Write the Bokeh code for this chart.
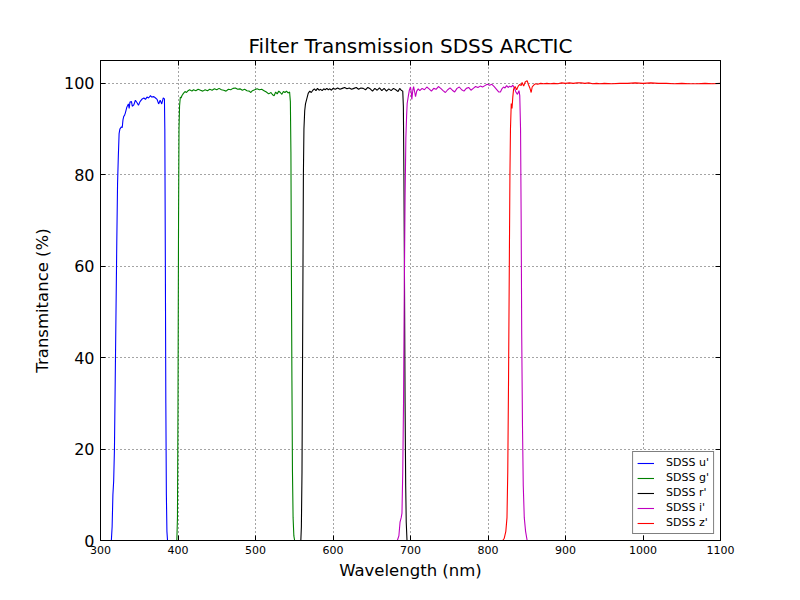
from bokeh.plotting import figure
from bokeh.models import LinearAxis, FixedTicker, Range1d, Legend, LegendItem
from bokeh.embed import file_html
from bokeh.resources import INLINE

# ---- data ----
u_wl = [300, 314, 315, 316, 317, 318, 319, 320, 321, 322, 323, 324, 325, 327, 328, 329, 330, 331, 332,
        334, 336, 337, 338, 340, 341, 343, 345, 347, 349, 351, 353.8, 356, 358, 360, 362, 364.5, 366,
        368.8, 371, 373, 375, 377, 379, 381, 382.5, 383, 383.7, 384.3, 385, 385.7, 386.5, 1100]
u_tr = [0, 0, 3, 10, 13, 20, 35, 50, 65, 78, 84, 89, 90, 90.5, 90.3, 92, 92.8, 93, 93.5,
        94.8, 95.5, 94.5, 95.9, 96, 95, 95.3, 96.3, 95.8, 95.2, 96, 96.6, 96.8, 96.5, 97, 96.8, 97.3, 97,
        97.1, 96.8, 96.5, 95.5, 96.3, 95.5, 96.8, 96.6, 90, 60, 30, 10, 2, 0, 0]

g_wl = [300, 398.5, 399.3, 400, 400.7, 401.3, 402, 403, 404, 405, 407, 409, 411, 413, 415, 418, 420, 423,
        426, 429, 432, 435, 438, 441, 444, 447, 450, 453, 456, 459, 462, 465, 468, 471, 474, 477, 480,
        483, 486, 489, 492, 494, 496, 499, 502, 505, 508, 511, 514, 517, 520, 522, 524, 526, 528, 530,
        532, 534, 536, 538, 540, 542, 544, 545, 545.7, 546.3, 547, 547.7, 548.5, 549.5, 550.5, 1100]
g_tr = [0, 0, 5, 30, 70, 90, 95, 97, 96.8, 97.3, 97.8, 98.2, 98.0, 98.4, 98.6, 98.3, 98.6, 98.4,
        98.7, 98.5, 98.3, 98.6, 98.4, 98.7, 98.5, 98.8, 98.6, 98.9, 98.6, 98.5, 98.3, 98.7, 98.6, 98.9, 99.0, 98.7, 98.8,
        98.5, 98.7, 98.4, 98.3, 98.0, 98.4, 98.6, 98.8, 98.6, 98.7, 98.4, 98.1, 97.7, 98.0, 97.5, 97.3, 98.1, 97.7, 98.3,
        98.0, 97.6, 98.2, 98.0, 98.3, 97.9, 98.1, 96, 85, 60, 35, 15, 5, 1, 0, 0]

r_wl = [300, 558.5, 559.2, 560, 561, 561.8, 562.5, 563.5, 564.5, 566, 568, 570, 572, 574, 576, 578, 580,
        582, 584, 586, 588, 590, 592, 594, 596, 598, 600, 603, 606, 609, 612, 615, 618, 621, 624, 627,
        630, 633, 636, 639, 642, 645, 648, 651, 654, 657, 660, 663, 666, 669, 672, 675, 678, 681, 684,
        686, 688, 690, 690.8, 691.5, 692.3, 693, 693.8, 694.5, 695.5, 1100]
r_tr = [0, 0, 3, 15, 50, 80, 90, 94, 95.5, 96.5, 97.8, 98.3, 98.0, 98.5, 98.8, 98.4, 98.9,
        98.5, 98.7, 98.4, 98.8, 98.6, 98.9, 98.6, 98.8, 98.5, 98.9, 98.7, 99.0, 98.7, 98.9, 99.1, 98.8, 99.0, 98.7, 98.9,
        99.1, 98.7, 99.0, 98.9, 98.6, 99.1, 98.8, 98.3, 98.9, 98.5, 99.0, 98.4, 98.9, 98.3, 98.8, 98.4, 98.9, 98.6, 98.2,
        98.9, 98.5, 98.3, 95, 80, 55, 30, 12, 4, 0, 0]

i_wl = [300, 683, 685, 686.5, 688, 689, 690, 691, 692, 693, 694, 695, 695.7, 697, 698.5, 700, 701, 701.7,
        703, 704, 705.5, 706.5, 708, 710, 712, 715, 718, 721, 724, 727, 730, 733, 736, 739, 742, 745,
        748, 751, 754, 757, 760, 763, 766, 769, 772, 775, 778, 781, 784, 787, 790, 793, 796, 799, 802,
        805, 808, 811, 814, 816, 818, 820, 822, 824, 826, 828, 830, 832, 834, 836, 838, 840, 841, 842,
        842.8, 843.5, 844.5, 845.5, 846.8, 848.5, 850.5, 1100]
i_tr = [0, 0, 1, 4, 5, 6, 15, 30, 55, 75, 88, 93, 95.6, 97, 98.5, 99.2, 98, 96.5,
        98.5, 99.3, 98, 97.1, 98.3, 98.8, 98.4, 98.9, 98.6, 99.2, 98.8, 98.3, 98.9, 98.7, 99.3, 98.9, 98.4, 98.0,
        98.6, 99.0, 98.5, 98.1, 98.9, 99.2, 98.6, 98.3, 98.9, 99.1, 98.5, 98.9, 99.3, 99.1, 99.4, 99.2, 99.5, 99.8, 99.6,
        99.8, 99.3, 98.7, 98.1, 98.1, 98.8, 99.2, 99.0, 99.5, 99.1, 99.4, 99.2, 99.6, 99.0, 98.1, 97.6, 98.4, 97.3, 90,
        70, 45, 25, 12, 5, 2, 0, 0]

z_wl = [300, 819, 821, 823, 824.5, 825.5, 826.5, 827.5, 828.3, 829, 830, 831, 832, 833, 835, 837, 839,
        841, 842.8, 844, 846, 848, 850.5, 852, 854, 855.7, 857, 859, 861, 864, 868, 872, 876, 880, 885,
        890, 895, 900, 905, 910, 915, 920, 925, 930, 935, 940, 945, 950, 960, 970, 980, 990, 1000, 1010,
        1020, 1030, 1040, 1050, 1060, 1070, 1080, 1090, 1100]
z_tr = [0, 0, 0.5, 2, 5, 15, 35, 60, 80, 90, 95.6, 94.5, 97, 98.7, 99.3, 98.6, 99.4,
        99.8, 99.5, 100.2, 99.4, 100.3, 100.6, 99.8, 99.0, 98.0, 99.2, 99.6, 99.9, 99.8, 100.0, 99.9, 100.0, 99.9, 100.0,
        99.9, 100.1, 100.0, 100.1, 100.0, 100.1, 100.1, 100.0, 100.1, 99.9, 100.0, 99.9, 100.0, 99.9, 100.0, 100.0, 100.1, 100.0, 100.1,
        100.0, 100.0, 99.9, 100.0, 99.9, 99.9, 100.0, 99.9, 100.0]

series = [
    ("SDSS u'", u_wl, u_tr, "#0000ff"),
    ("SDSS g'", g_wl, g_tr, "#008000"),
    ("SDSS r'", r_wl, r_tr, "#000000"),
    ("SDSS i'", i_wl, i_tr, "#bf00bf"),
    ("SDSS z'", z_wl, z_tr, "#ff0000"),
]

x_ticks = [300, 400, 500, 600, 700, 800, 900, 1000, 1100]
y_ticks = [0, 20, 40, 60, 80, 100]

FONT = "DejaVu Sans"

p = figure(width=800, height=600, output_backend="svg", toolbar_location=None,
           x_range=Range1d(300, 1100), y_range=Range1d(0, 105),
           min_border_left=100, min_border_right=80, min_border_top=60, min_border_bottom=60,
           title="Filter Transmission SDSS ARCTIC")
p.title.text_font = FONT
p.title.text_font_size = "20px"
p.title.text_font_style = "normal"
p.title.text_color = "black"
p.title.align = "center"
p.title.standoff = 6

p.outline_line_color = "black"
p.outline_line_width = 1
p.background_fill_color = "white"
p.border_fill_color = "white"

items = []
for name, wl, tr, col in series:
    r = p.line(wl, tr, line_color=col, line_width=1.1)
    items.append(LegendItem(label=name, renderers=[r]))

# axes
for ax in (p.xaxis[0], p.yaxis[0]):
    ax.major_tick_in = 5
    ax.major_tick_out = 0
    ax.minor_tick_line_color = None
    ax.axis_line_color = "black"
    ax.major_tick_line_color = "black"
    ax.major_label_text_font = FONT
    ax.axis_label_text_font = FONT
    ax.axis_label_text_font_style = "normal"
    ax.axis_label_text_font_size = "16.5px"
    ax.axis_label_text_color = "black"
    ax.major_label_text_color = "black"

p.xaxis[0].ticker = FixedTicker(ticks=x_ticks)
p.yaxis[0].ticker = FixedTicker(ticks=y_ticks)
p.xaxis[0].major_label_text_font_size = "11px"
p.yaxis[0].major_label_text_font_size = "16px"
p.xaxis[0].major_label_standoff = 5
p.yaxis[0].major_label_standoff = 6
p.xaxis[0].axis_label = "Wavelength (nm)"
p.yaxis[0].axis_label = "Transmitance (%)"
p.xaxis[0].axis_label_standoff = 4
p.yaxis[0].axis_label_standoff = 9

# inward ticks on the top and right edges (labels not painted)
top = LinearAxis(ticker=FixedTicker(ticks=x_ticks), major_tick_in=5, major_tick_out=0,
                 minor_tick_line_color=None, major_label_text_font_size="1px",
                 major_label_text_color=None, major_label_standoff=0)
right = LinearAxis(ticker=FixedTicker(ticks=y_ticks), major_tick_in=5, major_tick_out=0,
                   minor_tick_line_color=None, major_label_text_font_size="1px",
                   major_label_text_color=None, major_label_standoff=0)
p.add_layout(top, "above")
p.add_layout(right, "right")

# grid
for g in (p.xgrid[0], p.ygrid[0]):
    g.grid_line_color = "black"
    g.grid_line_dash = "1 3"
    g.grid_line_width = 0.8
    g.grid_line_alpha = 0.9
p.xgrid[0].ticker = FixedTicker(ticks=x_ticks)
p.ygrid[0].ticker = FixedTicker(ticks=y_ticks)

legend = Legend(items=items, location="bottom_right", margin=6, padding=4,
                spacing=2, label_height=12, glyph_height=12, glyph_width=17,
                label_standoff=12, label_text_font=FONT, label_text_font_size="11px",
                label_text_color="black",
                border_line_color="black", border_line_width=1, background_fill_alpha=1)
p.add_layout(legend, "center")

open("out.html", "w").write(file_html(p, INLINE))
